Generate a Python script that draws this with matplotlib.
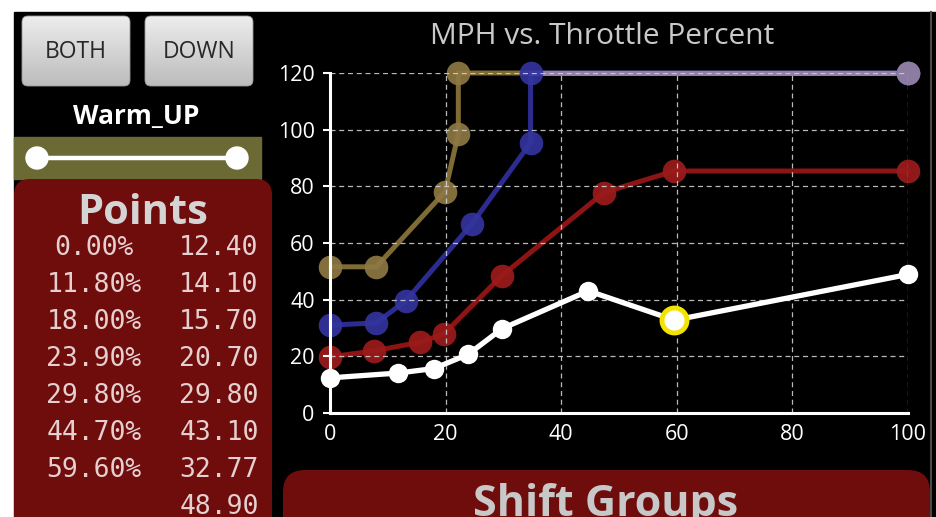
import numpy as np
import matplotlib
matplotlib.use('Agg')
import matplotlib.pyplot as plt
from matplotlib.patches import FancyBboxPatch, Rectangle, Circle
from matplotlib.colors import to_rgb

# ---------------- data ----------------
throttle_pct = [0.0, 11.8, 18.0, 23.9, 29.8, 44.7, 59.6, 100.0]
warmup_mph = [12.40, 14.10, 15.70, 20.70, 29.80, 43.10, 32.77, 48.90]
selected_index = 6

gold_throttle = [0, 8.0, 19.9, 22.2, 22.2, 100]
gold_mph = [51.6, 51.6, 78.1, 98.5, 120, 120]
blue_throttle = [0, 8.0, 13.1, 24.5, 34.7, 34.7, 100]
blue_mph = [31.0, 31.8, 39.6, 66.6, 95.4, 120, 120]
red_throttle = [0, 7.6, 15.6, 19.7, 29.7, 47.4, 59.5, 100]
red_mph = [19.8, 21.9, 25.0, 27.9, 48.4, 77.8, 85.4, 85.4]

x_ticks = [0, 20, 40, 60, 80, 100]
y_ticks = [0, 20, 40, 60, 80, 100, 120]
title = "MPH vs. Throttle Percent"
buttons = ["BOTH", "DOWN"]
profile_name = "Warm_UP"
panel_title = "Points"
shift_title = "Shift Groups"

# ---------------- figure ----------------
W, H = 937, 517
fig = plt.figure(figsize=(W / 100, H / 100), dpi=100)
fig.patch.set_facecolor('white')

bg = fig.add_axes([0, 0, 1, 1])
bg.set_xlim(0, W)
bg.set_ylim(H, 0)
bg.axis('off')

SANS = ['Open Sans', 'DejaVu Sans']
MONO = ['DejaVu Sans Mono']

# black screen
bg.add_patch(Rectangle((14, 12), W - 14, H - 12, color='black', zorder=0))
bg.plot([931, 931], [12, H], color='#4a4a4a', lw=1.5, zorder=1)

# buttons
def button(x0, x1, y0, y1, label):
    patch = FancyBboxPatch((x0, y0), x1 - x0, y1 - y0,
                           boxstyle="round,pad=0,rounding_size=6",
                           fc='none', ec='#9a9a9a', lw=0.6, zorder=3)
    bg.add_patch(patch)
    grad = np.linspace(0, 1, 100).reshape(-1, 1, 1)
    top = np.array(to_rgb('#ededed'))
    bot = np.array(to_rgb('#bcbcbc'))
    img = top + (bot - top) * grad
    im = bg.imshow(img, extent=(x0, x1, y1, y0), aspect='auto', zorder=2,
                   interpolation='bilinear')
    im.set_clip_path(patch)
    bg.text((x0 + x1) / 2, (y0 + y1) / 2 + 1, label, ha='center', va='center',
            fontsize=16.5, color='#282828', family=SANS, zorder=4)

button(22, 130, 16, 86, buttons[0])
button(145, 253, 16, 86, buttons[1])

bg.text(136, 117, profile_name, ha='center', va='center', fontsize=19,
        weight='bold', color='white', family=SANS, zorder=4)

# olive slider bar
bg.add_patch(Rectangle((14, 137), 247, 42, color='#6b6a34', zorder=2))
bg.plot([37, 237], [158, 158], color='white', lw=3.2, zorder=3)
for cx in (37, 237):
    bg.add_patch(Circle((cx, 158), 11, color='white', zorder=4))

# left points panel
bg.add_patch(FancyBboxPatch((14, 179), 258, 420,
                            boxstyle="round,pad=0,rounding_size=16",
                            fc='#6f0d0d', ec='none', zorder=2))
bg.text(143, 224, panel_title, ha='center', va='baseline', fontsize=30,
        weight='bold', color='#d4d4d4', family=SANS, zorder=4)
row0, row_step = 248, 37
for i, v in enumerate(warmup_mph):
    yc = row0 + i * row_step
    if i < len(throttle_pct) - 1:
        bg.text(94, yc, f"{throttle_pct[i]:.2f}%", ha='center', va='center',
                fontsize=19, color='#e6cfcf', family=MONO, zorder=4)
    bg.text(219, yc, f"{v:.2f}", ha='center', va='center',
            fontsize=19, color='#e6cfcf', family=MONO, zorder=4)

# shift groups panel
bg.add_patch(FancyBboxPatch((283, 470), 647, 120,
                            boxstyle="round,pad=0,rounding_size=22",
                            fc='#6f0d0d', ec='none', zorder=2))
bg.text(606, 516, shift_title, ha='center', va='baseline', fontsize=31,
        weight='bold', color='#c8c8c8', family=SANS, zorder=4)

bg.set_xlim(0, W)
bg.set_ylim(H, 0)

# title
fig.text(602 / W, 1 - 36 / H, title, ha='center', va='center', fontsize=21.5,
         color='#c9c9c9', family=SANS)

# ---------------- chart ----------------
ax = fig.add_axes([330 / W, (H - 413) / H, (908 - 330) / W, (413 - 73) / H])
ax.set_facecolor('none')
ax.set_xlim(0, 100)
ax.set_ylim(0, 120)
ax.set_xticks(x_ticks)
ax.set_yticks(y_ticks)
for s in ('top', 'right'):
    ax.spines[s].set_visible(False)
for s in ('left', 'bottom'):
    ax.spines[s].set_color('white')
    ax.spines[s].set_linewidth(2.2)
    ax.spines[s].set_zorder(2.6)
ax.set_axisbelow(False)
ax.grid(True, color='#d0d0d0', linestyle=(0, (4, 3)), linewidth=0.9, alpha=0.9)
ax.tick_params(axis='y', length=5, width=1.5, color='white', pad=6,
               labelsize=15.5, labelcolor='white')
ax.tick_params(axis='x', length=0, pad=8, labelsize=15.5, labelcolor='white')
for lab in ax.get_xticklabels() + ax.get_yticklabels():
    lab.set_family(SANS)

gold_line, gold_mk = '#7f6b34', '#8e7843'
blue_line, blue_mk = '#2b2b90', '#34349e'
red_line, red_mk = '#8c1414', '#9c1b1b'

def series(xs, ys, lc, mc, z):
    ax.plot(xs, ys, color=lc, lw=3.6, zorder=z, clip_on=False,
            solid_capstyle='round', solid_joinstyle='round')
    ax.plot(xs, ys, 'o', ms=17, mfc=mc, mec='none', alpha=0.92,
            zorder=z + 0.05, clip_on=False)

series(gold_throttle, gold_mph, gold_line, gold_mk, 2.0)
series(blue_throttle, blue_mph, blue_line, blue_mk, 2.1)

# where gold and blue overlap, screen shows additive blend
def hsegs(xs, ys):
    out = []
    for i in range(len(xs) - 1):
        if ys[i] == ys[i + 1] and xs[i] != xs[i + 1]:
            out.append((min(xs[i], xs[i + 1]), max(xs[i], xs[i + 1]), ys[i]))
    return out

mix_line = np.clip((np.array(to_rgb(gold_line)) + np.array(to_rgb(blue_line))) * 0.85, 0, 1)
mix_mk = np.clip((np.array(to_rgb(gold_mk)) + np.array(to_rgb(blue_mk))) * 0.72, 0, 1)
for a0, a1, ya in hsegs(gold_throttle, gold_mph):
    for b0, b1, yb in hsegs(blue_throttle, blue_mph):
        if ya == yb:
            lo, hi = max(a0, b0), min(a1, b1)
            if hi > lo:
                ax.plot([lo, hi], [ya, ya], color=mix_line, lw=3.6, zorder=2.12,
                        clip_on=False)
shared = set(zip(gold_throttle, gold_mph)) & set(zip(blue_throttle, blue_mph))
for px, py in shared:
    ax.plot([px], [py], 'o', ms=17, mfc=mix_mk, mec='none', zorder=2.2,
            clip_on=False)

series(red_throttle, red_mph, red_line, red_mk, 2.3)

# warm-up (active) series
ax.plot(throttle_pct, warmup_mph, color='white', lw=3.8, zorder=3,
        clip_on=False, solid_joinstyle='round')
ax.plot(throttle_pct, warmup_mph, 'o', ms=14, mfc='white', mec='none',
        zorder=3.1, clip_on=False)
ax.plot([throttle_pct[selected_index]], [warmup_mph[selected_index]], 'o',
        ms=18, mfc='white', mec='#f2e400', mew=3.5, zorder=3.2, clip_on=False)

fig.savefig('out.png', dpi=100, facecolor=fig.get_facecolor())
